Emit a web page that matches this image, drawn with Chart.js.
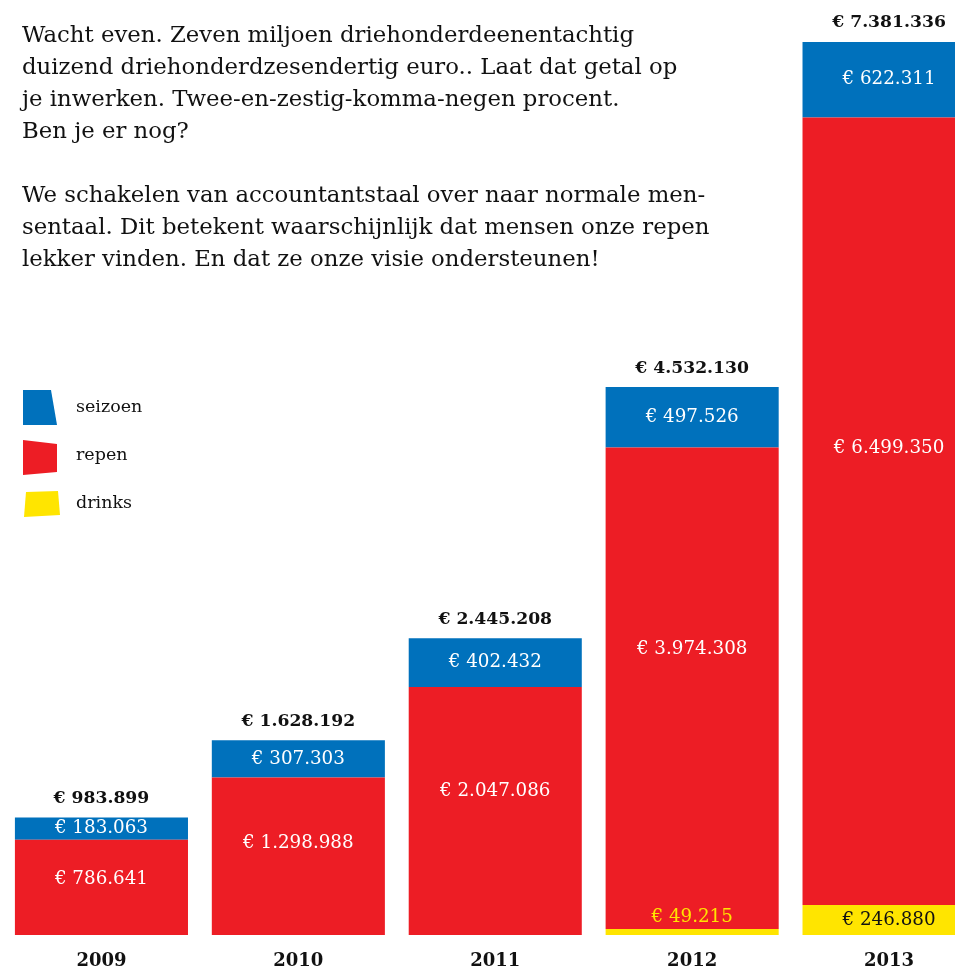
<!DOCTYPE html>
<html>
<head>
<meta charset="utf-8">
<script src="https://cdn.jsdelivr.net/npm/chart.js@4/dist/chart.umd.min.js"></script>
<style>
  html, body { margin: 0; padding: 0; background: #fff; overflow: hidden; width: 955px; height: 969px; }
  #wrap { position: absolute; left: 0; top: 0; width: 990px; height: 969px; }
  #intro {
    position: absolute; left: 22px; top: 18px;
    font-family: "DejaVu Serif", serif; font-size: 22.8px; line-height: 32px;
    color: #111; white-space: nowrap; z-index: 2;
  }
</style>
</head>
<body>
<div id="wrap">
  <div id="intro">Wacht even. Zeven miljoen driehonderdeenentachtig<br>duizend driehonderdzesendertig euro.. Laat dat getal op<br>je inwerken. Twee-en-zestig-komma-negen procent.<br>Ben je er nog?<br><br>We schakelen van accountantstaal over naar normale men-<br>sentaal. Dit betekent waarschijnlijk dat mensen onze repen<br>lekker vinden. En dat ze onze visie ondersteunen!</div>
  <canvas id="c" width="990" height="969"></canvas>
</div>
<script>
const years   = ['2009', '2010', '2011', '2012', '2013'];
const seizoen = [183063, 307303, 402432, 497526, 622311];
const repen   = [786641, 1298988, 2047086, 3974308, 6499350];
const drinks  = [null, null, null, 49215, 246880];
const totals  = [983899, 1628192, 2445208, 4532130, 7381336];

const BLUE = '#0071bc', RED = '#ed1d25', YELLOW = '#ffe500';
const FONT = '"DejaVu Serif", serif';

function euro(n) {
  return '\u20AC ' + String(n).replace(/\B(?=(\d{3})+(?!\d))/g, '.');
}

const labelPlugin = {
  id: 'labels',
  afterDatasetsDraw(chart) {
    const ctx = chart.ctx;
    ctx.save();
    ctx.textAlign = 'center';
    ctx.textBaseline = 'middle';
    const tops = [];
    chart.data.datasets.forEach((ds, di) => {
      const meta = chart.getDatasetMeta(di);
      meta.data.forEach((bar, i) => {
        const v = ds.data[i];
        if (v == null) return;
        const top = Math.min(bar.y, bar.base), bot = Math.max(bar.y, bar.base);
        const h = bot - top;
        tops[i] = tops[i] == null ? top : Math.min(tops[i], top);
        ctx.font = '18.3px ' + FONT;
        let y, col;
        if (h < 20) { y = top - 12; col = ds.backgroundColor; }
        else {
          y = ds.label === 'repen' ? top + h * 0.42 : top + h / 2;
          col = ds.label === 'drinks' ? '#111' : '#fff';
        }
        ctx.fillStyle = col;
        ctx.fillText(euro(v), bar.x, y);
      });
    });
    // totals
    const xs = chart.scales.x;
    ctx.fillStyle = '#111';
    ctx.font = 'bold 17.2px ' + FONT;
    totals.forEach((t, i) => {
      ctx.fillText(euro(t), xs.getPixelForValue(i), tops[i] - 19);
    });
    // years
    ctx.font = 'bold 18px ' + FONT;
    years.forEach((yr, i) => {
      ctx.fillText(yr, xs.getPixelForValue(i), 961);
    });
    // legend
    const shapes = [
      [[23,390],[51,390],[57,425],[23,425]],
      [[23,440],[57,444],[57,472],[23,475]],
      [[26,492],[58,491],[60,515],[24,517]]
    ];
    const order = chart.data.datasets.slice().reverse();
    ctx.textAlign = 'left';
    ctx.font = '17.5px ' + FONT;
    order.forEach((ds, k) => {
      const s = shapes[k];
      ctx.beginPath();
      ctx.moveTo(s[0][0], s[0][1]);
      for (let j = 1; j < s.length; j++) ctx.lineTo(s[j][0], s[j][1]);
      ctx.closePath();
      ctx.fillStyle = ds.backgroundColor;
      ctx.fill();
      ctx.fillStyle = '#111';
      ctx.fillText(ds.label, 76, 407 + k * 48);
    });
    ctx.restore();
  }
};

new Chart(document.getElementById('c'), {
  type: 'bar',
  data: {
    labels: years,
    datasets: [
      { label: 'drinks',  data: drinks,  backgroundColor: YELLOW, stack: 's' },
      { label: 'repen',   data: repen,   backgroundColor: RED,    stack: 's' },
      { label: 'seizoen', data: seizoen, backgroundColor: BLUE,   stack: 's' }
    ]
  },
  options: {
    responsive: false,
    animation: false,
    devicePixelRatio: 1,
    layout: { padding: { left: 3, right: 2.5, top: 0, bottom: 34 } },
    datasets: { bar: { barPercentage: 0.879, categoryPercentage: 1, borderWidth: 0 } },
    scales: {
      x: { display: false, stacked: true, offset: true },
      y: { display: false, stacked: true, min: 0, max: 7715000 }
    },
    plugins: { legend: { display: false }, tooltip: { enabled: false } }
  },
  plugins: [labelPlugin]
});
</script>
</body>
</html>
